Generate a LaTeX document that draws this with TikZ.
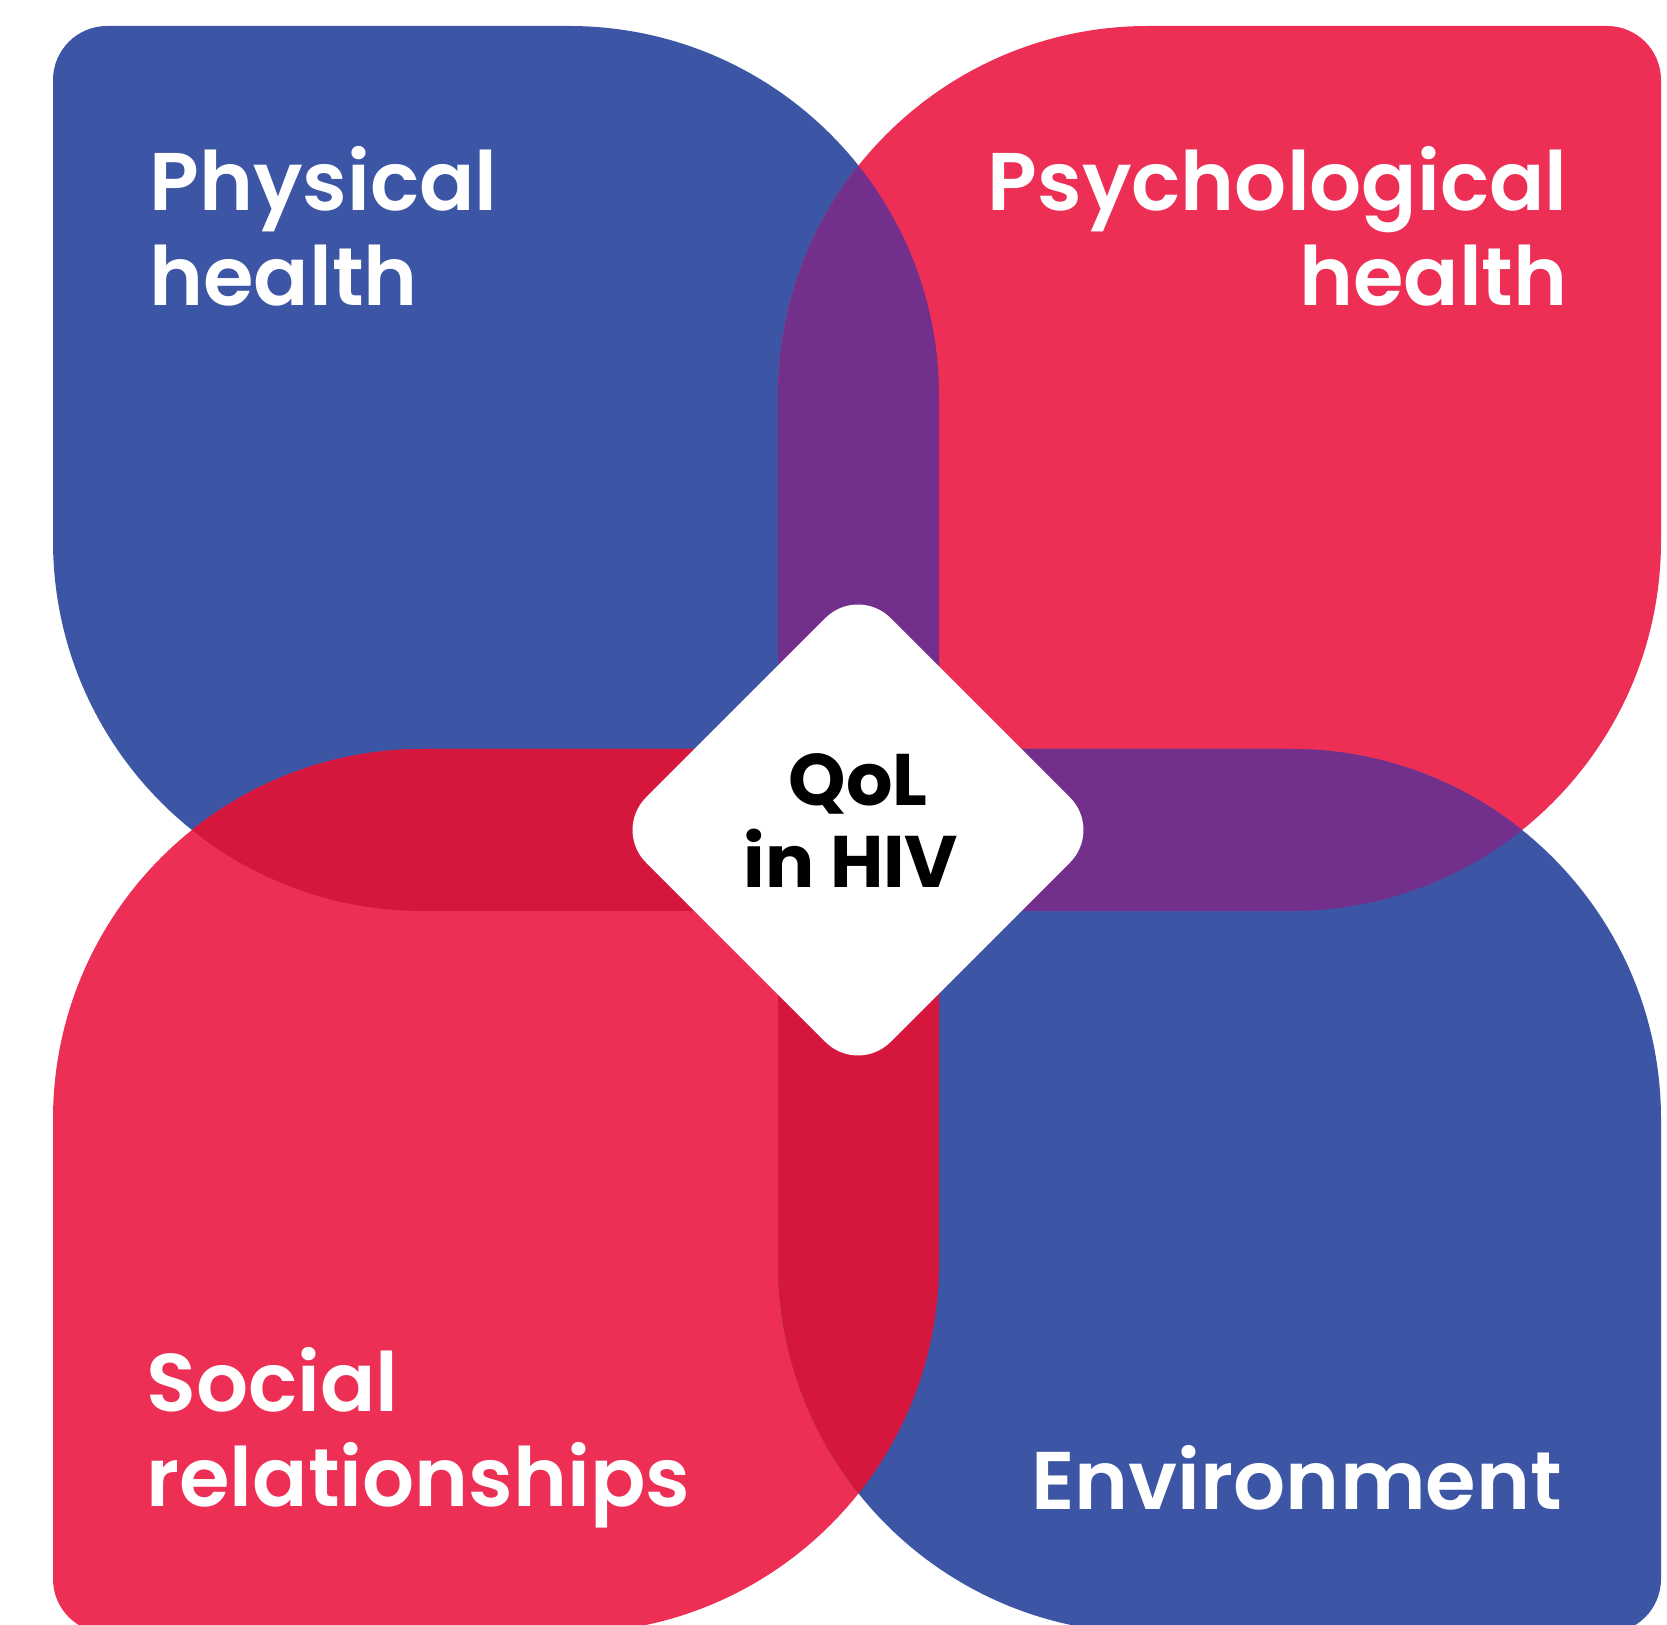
\documentclass[tikz,border=0pt]{standalone}
\usepackage{fontspec}
\setmainfont{Poppins}[BoldFont={Poppins SemiBold}]
\newfontfamily\qolfont{Poppins}
\definecolor{qblue}{RGB}{60,86,165}
\definecolor{qpink}{RGB}{237,46,85}
\definecolor{qpurple}{RGB}{114,47,140}
\definecolor{qred}{RGB}{213,23,62}
\newcommand{\TLpath}{(53,80) arc[start angle=180,end angle=270,radius=54] -- (569,26) arc[start angle=270,end angle=360,radius=370] -- (939,911) -- (423,911) arc[start angle=90,end angle=180,radius=370] -- cycle}
\newcommand{\TRpath}{(778,911) -- (778,396) arc[start angle=180,end angle=270,radius=370] -- (1607,26) arc[start angle=270,end angle=360,radius=54] -- (1661,541) arc[start angle=0,end angle=90,radius=370] -- cycle}
\newcommand{\BLpath}{(939,749) -- (939,1263) arc[start angle=0,end angle=90,radius=370] -- (107,1633) arc[start angle=90,end angle=180,radius=54] -- (53,1119) arc[start angle=180,end angle=270,radius=370] -- cycle}
\newcommand{\BRpath}{(778,749) -- (1291,749) arc[start angle=270,end angle=360,radius=370] -- (1661,1579) arc[start angle=0,end angle=90,radius=54] -- (1148,1633) arc[start angle=90,end angle=180,radius=370] -- cycle}
\tikzset{
  lab/.style={text=white, font=\bfseries\fontsize{40.9pt}{48pt}\selectfont, inner sep=0pt},
  qoltxt/.style={text=black, font=\qolfont\bfseries\fontsize{36.5pt}{43pt}\selectfont, inner sep=0pt},
  diabox/.style={fill=white, rotate=45, minimum size=172.9pt, rounded corners=23pt, inner sep=0pt, draw=none}
}
\begin{document}
\begin{tikzpicture}[x=0.5pt,y=-0.5pt]
\useasboundingbox (0,0) rectangle (1667,1625);
\clip (0,0) rectangle (1667,1625);
\fill[qblue] \TLpath;
\fill[qpink] \TRpath;
\fill[qpink] \BLpath;
\fill[qblue] \BRpath;
\begin{scope}\clip \TLpath; \fill[qpurple] \TRpath; \end{scope}
\begin{scope}\clip \TRpath; \fill[qpurple] \BRpath; \end{scope}
\begin{scope}\clip \TLpath; \fill[qred] \BLpath; \end{scope}
\begin{scope}\clip \BLpath; \fill[qred] \BRpath; \end{scope}
\node[diabox] (dia) at (858,830) {};
\node[qoltxt, anchor=base] (qol1) at (858,806) {QoL};
\node[qoltxt, anchor=base] (qol2) at (851,888) {in HIV};
\node[lab, anchor=base west] (phys1) at (149,211) {Physical};
\node[lab, anchor=base west] (phys2) at (149,306) {health};
\node[lab, anchor=base east] (psy1) at (1568,211) {Psychological};
\node[lab, anchor=base east] (psy2) at (1568,306) {health};
\node[lab, anchor=base west] (soc1) at (146,1411) {Social};
\node[lab, anchor=base west] (soc2) at (146,1506) {relationships};
\node[lab, anchor=base west] (env) at (1031,1509) {Environment};
\end{tikzpicture}
\end{document}
